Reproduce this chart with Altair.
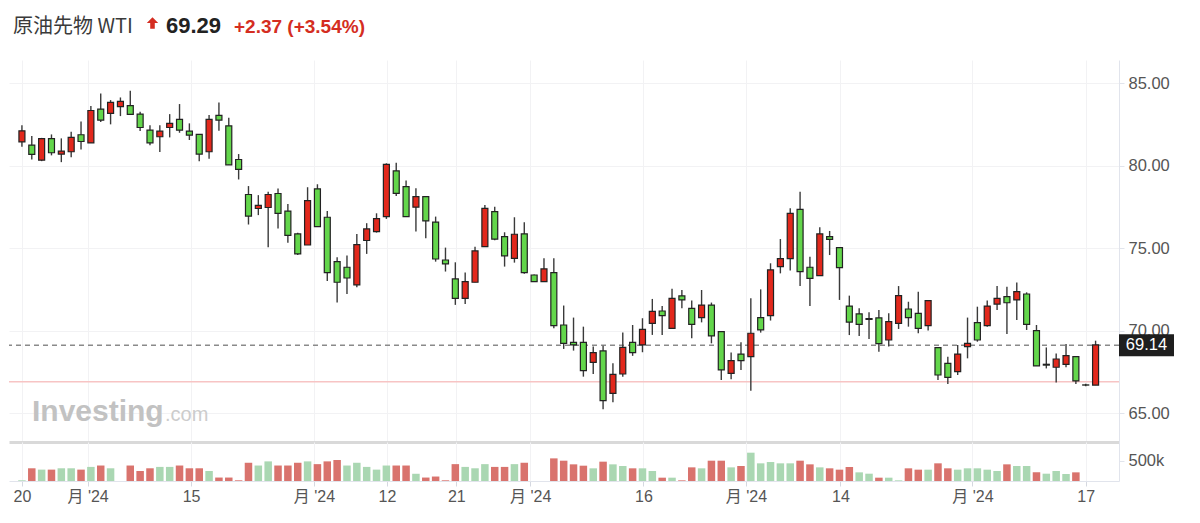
import json
import altair as alt
import pandas as pd

# ---------------- data ----------------
opens = [81.46, 81.26, 80.35, 81.65, 80.72, 80.86, 81.89, 81.40, 83.44, 83.18,
         83.59, 83.65, 83.14, 82.17, 81.77, 82.33, 82.82, 82.11, 81.91, 80.86,
         83.06, 82.43, 80.39, 78.27, 77.42, 77.48, 78.33, 77.26, 75.88, 75.21,
         78.61, 76.89, 74.20, 73.86, 72.79, 75.48, 76.02, 76.93, 79.70, 78.75,
         77.50, 78.14, 76.59, 74.30, 73.15, 71.98, 72.95, 75.11, 77.23, 75.72,
         74.40, 75.88, 73.39, 72.99, 73.54, 70.36, 69.31, 69.31, 68.10, 68.79,
         66.22, 67.39, 69.31, 69.15, 70.46, 71.21, 70.16, 72.12, 71.37, 70.81,
         71.57, 69.96, 67.43, 68.60, 68.44, 70.81, 70.93, 73.90, 74.38, 77.37,
         73.86, 73.35, 75.72, 75.05, 71.51, 71.03, 70.75, 70.79, 69.45, 70.46,
         71.33, 71.07, 70.32, 68.99, 68.04, 67.53, 69.05, 70.50, 70.32, 71.63,
         72.08, 71.88, 72.24, 70.02, 67.98, 67.80, 67.98, 68.44, 66.73, 66.72]
highs = [82.47, 81.81, 81.70, 81.91, 81.67, 82.07, 82.70, 83.63, 84.39, 83.99,
         84.15, 84.56, 83.28, 82.47, 82.47, 83.14, 83.75, 82.58, 81.91, 83.08,
         83.85, 82.92, 80.72, 78.78, 78.23, 78.43, 78.64, 77.69, 75.95, 78.71,
         78.89, 77.27, 74.47, 74.57, 75.88, 76.53, 77.13, 80.16, 80.20, 79.11,
         78.65, 78.14, 76.93, 75.05, 74.16, 73.54, 75.11, 77.64, 77.53, 75.98,
         76.89, 76.59, 73.42, 74.40, 74.40, 71.54, 70.81, 70.26, 69.05, 69.11,
         68.04, 69.90, 70.36, 70.77, 71.94, 71.51, 72.56, 72.48, 71.84, 72.48,
         71.72, 69.96, 68.69, 69.31, 71.98, 72.52, 74.10, 75.57, 77.43, 78.44,
         74.50, 76.28, 76.06, 75.05, 72.14, 71.37, 71.13, 71.27, 71.07, 72.72,
         71.77, 72.38, 71.84, 69.00, 68.44, 69.15, 70.81, 71.47, 71.84, 72.72,
         72.68, 72.93, 72.34, 70.36, 69.00, 68.64, 69.21, 68.44, 66.80, 69.41]
lows = [81.16, 80.39, 80.29, 80.64, 80.23, 80.52, 81.00, 81.40, 82.66, 82.52,
        83.02, 83.08, 82.11, 81.26, 80.84, 81.73, 82.01, 81.57, 80.29, 80.43,
        82.13, 80.07, 79.18, 76.45, 77.02, 75.07, 76.21, 75.34, 74.60, 75.21,
        76.30, 73.03, 71.72, 72.24, 72.65, 74.67, 75.96, 76.79, 78.18, 76.93,
        76.03, 75.62, 74.20, 73.60, 71.58, 71.64, 72.95, 75.11, 75.50, 73.90,
        74.14, 73.46, 72.96, 72.99, 70.16, 68.91, 68.81, 67.23, 67.39, 65.25,
        65.68, 67.23, 68.49, 68.71, 69.76, 69.76, 70.12, 71.37, 69.55, 70.52,
        69.25, 67.03, 67.07, 67.64, 66.38, 69.90, 70.63, 73.49, 73.66, 72.73,
        71.51, 73.35, 74.60, 71.88, 69.75, 69.69, 69.51, 68.74, 69.05, 70.12,
        70.26, 69.86, 70.02, 67.03, 66.79, 67.33, 68.34, 69.35, 70.26, 71.27,
        69.82, 70.66, 70.06, 67.88, 67.73, 66.87, 67.80, 66.79, 66.65, 66.72]
closes = [82.13, 80.70, 81.65, 80.80, 80.90, 81.73, 81.48, 83.36, 82.78, 83.85,
          83.91, 83.12, 82.33, 81.40, 82.11, 82.58, 82.17, 81.87, 80.72, 82.82,
          82.78, 80.07, 79.79, 76.96, 77.61, 78.27, 77.12, 75.79, 74.67, 77.90,
          76.32, 73.54, 72.95, 73.21, 75.23, 76.18, 76.81, 80.10, 78.34, 76.93,
          78.14, 76.67, 74.36, 74.06, 71.98, 72.99, 74.85, 77.43, 75.56, 74.55,
          75.86, 73.54, 72.99, 73.76, 70.32, 69.25, 69.15, 67.59, 68.69, 65.78,
          67.37, 69.01, 68.69, 70.10, 71.19, 70.93, 71.98, 71.88, 70.40, 71.57,
          69.70, 67.64, 68.20, 68.20, 69.86, 70.06, 73.70, 74.38, 77.13, 73.59,
          73.19, 75.88, 75.55, 73.84, 70.54, 70.40, 70.70, 69.23, 70.56, 72.14,
          70.81, 70.16, 71.84, 67.33, 67.19, 68.60, 69.25, 69.45, 71.51, 71.98,
          71.71, 72.38, 70.40, 67.88, 67.93, 68.30, 68.50, 66.97, 66.72, 69.15]

# volume (thousands of contracts) and its colour, one per candle (last two have none)
volumes_k = [17, 313, 280, 280, 313, 313, 280, 347, 381, 313,
             0, 381, 246, 313, 347, 347, 381, 313, 313, 246,
             85, 85, 17, 449, 381, 483, 381, 381, 449, 483,
             415, 483, 517, 381, 449, 347, 280, 381, 381, 381,
             178, 85, 110, 17, 415, 347, 313, 415, 347, 347,
             415, 449, 0, 0,
             557, 500, 410, 377, 312, 476, 410, 369, 312, 312,
             246, 82, 82, 16, 336, 312, 500, 500, 336, 369,
             697, 435, 467, 435, 435, 500, 410, 336, 312, 279,
             344, 213, 180, 82, 82, 16, 312, 279, 279, 435,
             312, 279, 312, 312, 279, 246, 410, 369, 369, 213,
             180, 246, 172, 213, 0, 0]
volume_dir = list("drdrddrdrd" "drrrddrrrd" "rrrrddrrrd" "rrrdddddrr" "drrrrdddrr" "drrr"
                  "rrrrdrddrd" "drdrrdrrdr" "dddddrrdrr" "rddrddrrdr" "rdddddrddr" "dddrrr")

current_price = 69.14
previous_close = 66.92

price_ticks = [65, 70, 75, 80, 85]
volume_ticks = [500000]
date_tick_pos = [1.0, 7.67, 18.17, 30.65, 38.05, 45.1, 52.6, 64.1, 74.5, 84.1, 97.5, 109.0]
date_tick_labels = ["20", "月 '24", "15", "月 '24", "12", "21", "月 '24", "16",
                    "月 '24", "14", "月 '24", "17"]

title_name = "原油先物 WTI"
title_last = "69.29"
title_change = "+2.37 (+3.54%)"
watermark_main = "Investing"
watermark_sub = ".com"

# ---------------- tables ----------------
n = len(opens)
df = pd.DataFrame({
    "i": list(range(1, n + 1)),
    "open": opens, "high": highs, "low": lows, "close": closes,
})
df["top"] = df[["open", "close"]].max(axis=1)
df["bot"] = df[["open", "close"]].min(axis=1)
df["dir"] = ["up" if c > o else "down" for o, c in zip(opens, closes)]

vdf = pd.DataFrame({
    "i": list(range(1, n + 1)),
    "vol": [v * 1000 for v in volumes_k],
    "vdir": ["up" if d == "r" else "down" for d in volume_dir[:n]] + ["up"] * (n - len(volume_dir[:n])),
})
vdf = vdf[vdf["vol"] > 0]

RED = "#e2281c"
GREEN = "#63d64b"
VRED = "#d9736d"
VGREEN = "#aad7b2"
FONT = "Liberation Sans, Noto Sans CJK JP, sans-serif"

W = 1110
H_PRICE = 382
H_VOL = 39

xscale = alt.Scale(domain=[0.195, 111.87], nice=False, zero=False)
yscale = alt.Scale(domain=[63.27, 86.42], nice=False, zero=False)
vscale = alt.Scale(domain=[0, 960000], nice=False, zero=True)
cscale = alt.Scale(domain=["up", "down"], range=[RED, GREEN])
vcscale = alt.Scale(domain=["up", "down"], range=[VRED, VGREEN])

x_price_axis = alt.Axis(values=date_tick_pos, labels=False, ticks=False, domain=True,
                        domainColor="#d9d9d9", domainWidth=3, grid=True,
                        gridColor="#f2f2f4", title=None)
y_price_axis = alt.Axis(orient="right", values=price_ticks, format=".2f", grid=True,
                        gridColor="#f2f2f4", domain=True, domainColor="#e1e4ec",
                        ticks=True, tickColor="#e1e4ec", tickSize=5, labelPadding=4,
                        labelFontSize=16.5, labelColor="#555555", labelFont=FONT, title=None)

base = alt.Chart(df)

wicks = base.mark_rule(color="#3a3a3a", strokeWidth=1.4).encode(
    x=alt.X("i:Q", scale=xscale, axis=x_price_axis),
    y=alt.Y("low:Q", scale=yscale, axis=y_price_axis),
    y2="high:Q",
)
bodies = base.mark_bar(size=6, stroke="#222222", strokeWidth=1.2).encode(
    x=alt.X("i:Q", scale=xscale),
    y=alt.Y("top:Q", scale=yscale),
    y2="bot:Q",
    color=alt.Color("dir:N", scale=cscale, legend=None),
)

prev_line = alt.Chart(pd.DataFrame({"p": [previous_close]})).mark_rule(
    color="#f7c4c4", strokeWidth=1.5
).encode(y=alt.Y("p:Q", scale=yscale))

cur_df = pd.DataFrame({"p": [current_price], "t": [f"{current_price:.2f}"]})
cur_line = alt.Chart(cur_df).mark_rule(
    color="#8a8a8a", strokeWidth=1.5, strokeDash=[5, 4]
).encode(y=alt.Y("p:Q", scale=yscale))
cur_box = alt.Chart(cur_df).mark_point(
    shape="M-1,-0.4L1,-0.4L1,0.4L-1,0.4Z", filled=True, opacity=1, color="#1e1e1e", size=3025
).encode(x=alt.value(1137.5), y=alt.Y("p:Q", scale=yscale))
cur_text = alt.Chart(cur_df).mark_text(
    color="white", fontSize=16.5, font=FONT, align="center", baseline="middle"
).encode(x=alt.value(1137.5), y=alt.Y("p:Q", scale=yscale), text="t:N")

wm1 = alt.Chart(pd.DataFrame({"t": [watermark_main]})).mark_text(
    fontSize=30, fontWeight="bold", color="#c2c2c2", font="Liberation Sans", align="left",
    baseline="alphabetic"
).encode(x=alt.value(23), y=alt.value(361), text="t:N")
wm2 = alt.Chart(pd.DataFrame({"t": [watermark_sub]})).mark_text(
    fontSize=20, color="#cccccc", font="Liberation Sans", align="left", baseline="alphabetic"
).encode(x=alt.value(156), y=alt.value(361), text="t:N")

price = alt.layer(prev_line, cur_line, wicks, bodies, cur_box, cur_text, wm1, wm2).properties(
    width=W, height=H_PRICE
)

# ---------------- volume panel ----------------
label_expr = "{}[indexof({}, datum.value)]".format(
    json.dumps(date_tick_labels, ensure_ascii=False), json.dumps(date_tick_pos)
)
x_vol_axis = alt.Axis(values=date_tick_pos, labelExpr=label_expr, grid=True, gridColor="#f2f2f4",
                      domain=True, domainColor="#e1e4ec", ticks=True, tickColor="#d5d8e0",
                      tickSize=5, labelFontSize=16, labelColor="#555555", labelFont=FONT,
                      labelPadding=2, title=None)
y_vol_axis = alt.Axis(orient="right", values=volume_ticks, format="~s", grid=False,
                      domain=True, domainColor="#e1e4ec", ticks=True, tickColor="#e1e4ec",
                      tickSize=5, labelPadding=4, labelFontSize=16.5, labelColor="#555555",
                      labelFont=FONT, title=None)

volume = alt.Chart(vdf).mark_bar(size=7.5).encode(
    x=alt.X("i:Q", scale=xscale, axis=x_vol_axis),
    y=alt.Y("vol:Q", scale=vscale, axis=y_vol_axis),
    color=alt.Color("vdir:N", scale=vcscale, legend=None),
).properties(width=W, height=H_VOL)

# ---------------- header ----------------
h1 = alt.Chart(pd.DataFrame({"t": [title_name]})).mark_text(
    fontSize=20, color="#3a3a3a", font="Noto Sans CJK JP", align="left", baseline="alphabetic"
).encode(x=alt.value(4), y=alt.value(25), text="t:N")
h_arrow = alt.Chart(pd.DataFrame({"t": [title_last]})).mark_point(
    shape="M0,-1L1,0L0.4,0L0.4,1L-0.4,1L-0.4,0L-1,0Z", filled=True, opacity=1,
    color="#d42d21", size=130
).encode(x=alt.value(143.5), y=alt.value(15))
h2 = alt.Chart(pd.DataFrame({"t": [title_last]})).mark_text(
    fontSize=22, fontWeight="bold", color="#222222", font="Liberation Sans", align="left",
    baseline="alphabetic"
).encode(x=alt.value(157), y=alt.value(25), text="t:N")
h3 = alt.Chart(pd.DataFrame({"t": [title_change]})).mark_text(
    fontSize=19, fontWeight="bold", color="#d42d21", font="Liberation Sans", align="left",
    baseline="alphabetic"
).encode(x=alt.value(225), y=alt.value(25), text="t:N")
header = alt.layer(h1, h_arrow, h2, h3).properties(width=W, height=52)

chart = alt.vconcat(header, price, volume, spacing=0).resolve_scale(
    x="independent", y="independent", color="independent"
).properties(padding=0).configure(background="white").configure_view(
    strokeWidth=0, stroke="transparent"
)

chart.save("out.html", embed_options={"renderer": "svg", "actions": False})
